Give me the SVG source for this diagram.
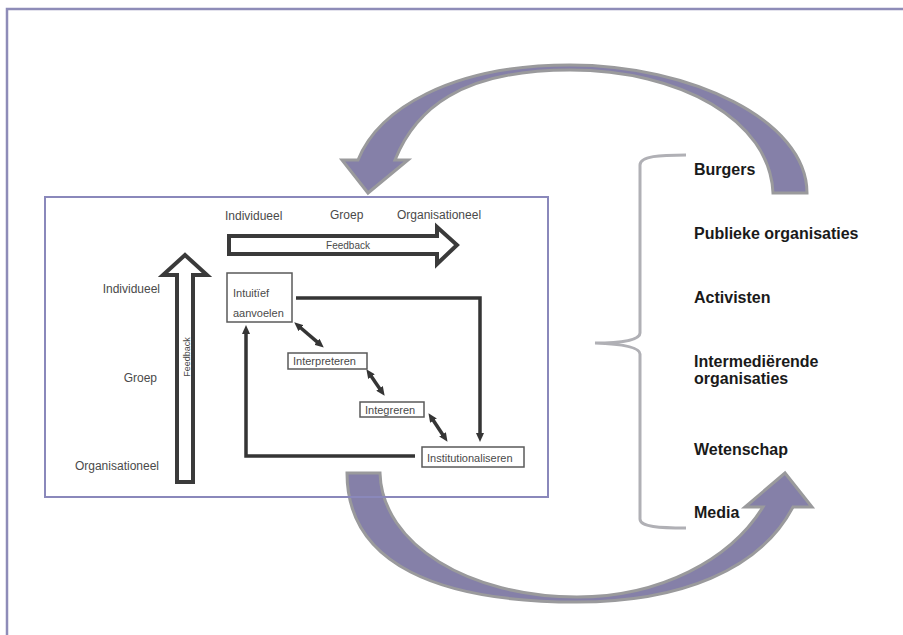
<svg xmlns="http://www.w3.org/2000/svg" width="903" height="635" viewBox="0 0 903 635">
<defs>
<style>
.lbl{font-family:"Liberation Sans",Arial,sans-serif;font-size:12px;fill:#4a4a4a}
.small{font-family:"Liberation Sans",Arial,sans-serif;font-size:11px;fill:#4a4a4a}
.fb{font-family:"Liberation Sans",Arial,sans-serif;font-size:10px;fill:#4a4a4a}
.act{font-family:"Liberation Sans",Arial,sans-serif;font-size:16px;font-weight:bold;fill:#1a1a1a}
.pbox{fill:#fff;stroke:#5a5a5a;stroke-width:1.5}
.conn{fill:none;stroke:#353535;stroke-width:3.5}
.big{fill:#8580a8;stroke:#9a9a9c;stroke-width:3;stroke-linejoin:miter}
.fbar{fill:#fff;stroke:#3a3a3a;stroke-width:4;stroke-linejoin:miter}
</style>
<marker id="ah" viewBox="0 0 9 8" refX="1" refY="4" markerWidth="9" markerHeight="8" markerUnits="userSpaceOnUse" orient="auto-start-reverse">
<path d="M0,0 L9,4 L0,8 Z" fill="#353535"/>
</marker>
</defs>
<rect width="903" height="635" fill="#fff"/>
<path d="M7 635 V9 H903" fill="none" stroke="#8e8cb8" stroke-width="2.5"/>

<g id="frame-fill"><rect x="45" y="197" width="503" height="300" fill="#fff"/></g>

<g id="arrow-top">
<path class="big" d="M773 193 L807 193 C807 120 690 65 570 65 C450 65 378 110 358 160 L342 160 L368 193 L408 160 L395 160 C415 110 460 70 570 70 C680 70 770 120 773 193 Z"/>
</g>
<g id="arrow-bottom">
<path class="big" d="M347 473 L380 473 C382 545 470 597 577 597 C660 597 730 560 763 507 L745 507 L785 473 L812 507 L793 507 C760 570 680 602 577 602 C440 602 347 565 347 473 Z"/>
</g>

<g id="frame"><rect x="45" y="197" width="503" height="300" fill="none" stroke="#8a88bb" stroke-width="2"/></g>

<g id="bracket">
<path d="M686 155 C660 155 640 156 640 165 L640 333 C640 340 622 343 595 343 C622 344 640 347 640 354 L640 519 C640 527 660 528 686 528" fill="none" stroke="#b0b0b5" stroke-width="3"/>
</g>

<g id="actors">
<text class="act" x="694" y="175">Burgers</text>
<text class="act" x="694" y="239">Publieke organisaties</text>
<text class="act" x="694" y="303">Activisten</text>
<text class="act" x="694" y="367">Intermediërende</text>
<text class="act" x="694" y="384">organisaties</text>
<text class="act" x="694" y="455">Wetenschap</text>
<text class="act" x="694" y="518">Media</text>
</g>

<g id="levels-top">
<text class="lbl" x="225" y="220">Individueel</text>
<text class="lbl" x="330" y="219">Groep</text>
<text class="lbl" x="397" y="219">Organisationeel</text>
</g>
<g id="levels-left">
<text class="lbl" x="160" y="293" text-anchor="end">Individueel</text>
<text class="lbl" x="157" y="382" text-anchor="end">Groep</text>
<text class="lbl" x="159" y="470" text-anchor="end">Organisationeel</text>
</g>

<g id="feedback-h">
<path class="fbar" d="M229 236 H437 V227 L457 245 L437 264 V254 H229 Z"/>
<text class="fb" x="348" y="248.5" text-anchor="middle">Feedback</text>
</g>
<g id="feedback-v">
<path class="fbar" d="M177 482 V275 H163 L185 255 L207 275 H193 V482 Z"/>
<text class="fb" x="189.5" y="357" text-anchor="middle" transform="rotate(-90 189.5 357)" style="font-size:9px">Feedback</text>
</g>

<g id="connectors">
<path class="conn" d="M296 298 H480 V434" marker-end="url(#ah)"/>
<path class="conn" d="M415 456 H246 V333" marker-end="url(#ah)"/>
<line class="conn" x1="300.3" y1="327.5" x2="317.7" y2="342.4" marker-start="url(#ah)" marker-end="url(#ah)"/>
<line class="conn" x1="370.9" y1="375.8" x2="380.1" y2="389.2" marker-start="url(#ah)" marker-end="url(#ah)"/>
<line class="conn" x1="432.9" y1="419.8" x2="443.1" y2="435.2" marker-start="url(#ah)" marker-end="url(#ah)"/>
</g>

<g id="n-intuitief">
<rect class="pbox" x="227" y="273" width="65" height="49"/>
<text class="small" x="233" y="297">Intuitïef</text>
<text class="small" x="233" y="317">aanvoelen</text>
</g>
<g id="n-interpreteren">
<rect class="pbox" x="288" y="353" width="79" height="16"/>
<text class="small" x="293" y="365">Interpreteren</text>
</g>
<g id="n-integreren">
<rect class="pbox" x="360" y="402" width="64" height="15"/>
<text class="small" x="365" y="413.5">Integreren</text>
</g>
<g id="n-institutionaliseren">
<rect class="pbox" x="422" y="447" width="102" height="20"/>
<text class="small" x="427" y="462">Institutionaliseren</text>
</g>
</svg>
